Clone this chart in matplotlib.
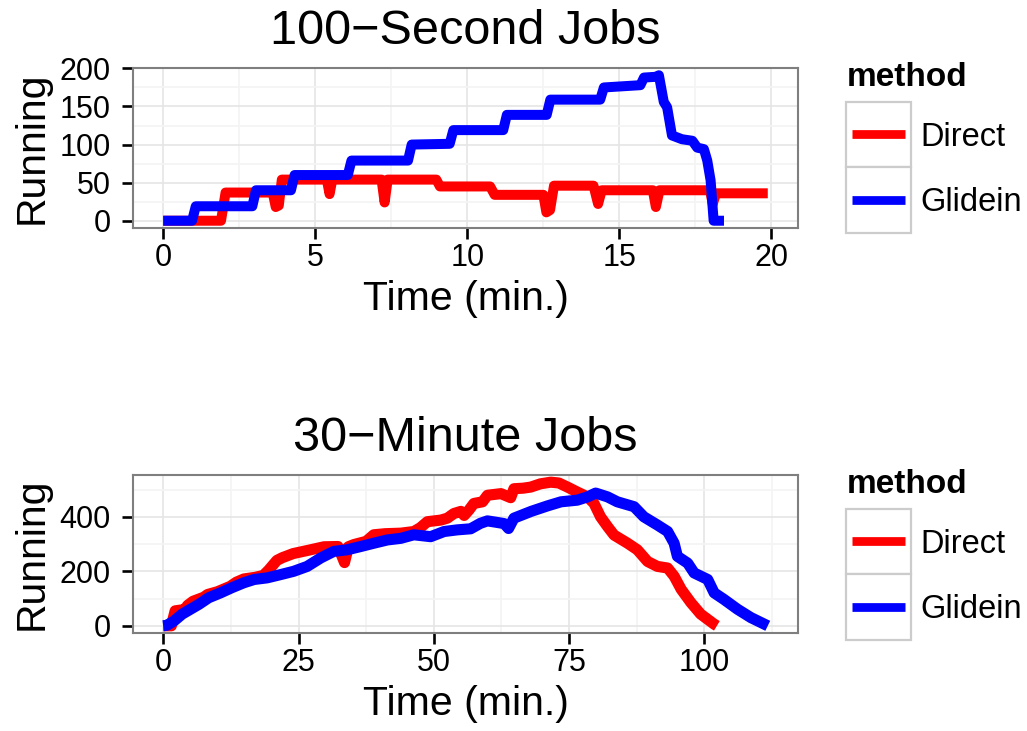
import numpy as np
import matplotlib.pyplot as plt
from matplotlib.patches import Rectangle
from matplotlib.lines import Line2D

plt.rcParams['font.family'] = ['Liberation Sans', 'DejaVu Sans']

# ---- data: 100-second jobs (time in minutes, running jobs) ----
short_direct_t = [0, 1.9, 2.05, 3.6, 3.7, 3.8, 3.9, 5.38, 5.47, 5.56, 7.18, 7.28, 7.38,
                  8.98, 9.1, 10.75, 10.9, 12.5, 12.6, 12.72, 12.85, 14.15, 14.3, 14.42,
                  16.1, 16.2, 16.32, 17.98, 18.07, 18.18, 19.88]
short_direct_v = [0, 0, 37, 37, 18, 20, 54, 54, 35, 54, 54, 24, 54,
                  54, 45, 45, 34, 34, 11, 14, 46, 46, 22, 40,
                  40, 18, 40, 40, 22, 36, 36]
short_glidein_t = [0, 0.95, 1.07, 2.93, 3.05, 4.2, 4.32, 6.07, 6.19, 8.05, 8.17, 9.42,
                   9.54, 11.18, 11.3, 12.61, 12.73, 14.37, 14.49, 15.69, 15.81, 16.2,
                   16.3, 16.46, 16.57, 16.73, 17.06, 17.4, 17.56, 17.78, 17.89, 18.0,
                   18.1, 18.44]
short_glidein_v = [0, 0, 19, 19, 40, 40, 60, 60, 79, 79, 100, 101,
                   119, 119, 139, 139, 159, 159, 175, 178, 188, 189,
                   191, 156, 149, 112, 107, 105, 96, 94, 79, 53,
                   0, 0]

# ---- data: 30-minute jobs ----
long_direct_t = [0, 1.5, 2.2, 4.0, 4.5, 5.5, 7.5, 8.2, 10, 12.4, 13.5, 14.9, 17, 18.5,
                 19.5, 21, 22, 24, 27, 29.7, 32.3, 33.5, 34.2, 35.2, 37.5, 38.9, 41,
                 43.9, 46.3, 47.5, 48.8, 51.3, 52.5, 53.7, 55.0, 55.6, 56.5, 57.4, 59.0,
                 59.9, 62.4, 64.2, 64.8, 66.5, 67.9, 69.7, 71.6, 73.1, 74.7, 76.5, 78.4,
                 79.6, 80.8, 82.1, 83.3, 85.8, 87.6, 89.5, 91.3, 93.2, 94.4, 95.7, 97.5,
                 99.3, 101.8, 102.3]
long_direct_v = [0, 0, 55, 60, 75, 90, 105, 115, 125, 145, 160, 172, 178, 185,
                 205, 240, 250, 265, 278, 290, 291, 232, 290, 298, 310, 334, 338,
                 340, 346, 360, 382, 388, 395, 412, 420, 405, 425, 449, 455,
                 479, 485, 470, 503, 505, 509, 521, 527, 524, 509, 491, 473,
                 449, 400, 364, 333, 303, 279, 236, 218, 212, 182, 134, 85,
                 43, 6, 0]
long_glidein_t = [0, 0.7, 2.0, 3.5, 5.05, 6.6, 8.4, 10.6, 12.7, 14.9, 16.8, 19.2, 21.7,
                  24.1, 26.6, 29.1, 31.5, 34, 36.5, 38.9, 41.4, 43.9, 46.3, 49.4, 51.9,
                  54.3, 56.8, 58.6, 59.9, 61.5, 63.0, 63.8, 64.8, 68.0, 71.0, 73.5, 76.5,
                  78.4, 79.9, 82.1, 83.9, 87, 88.8, 91.3, 93.2, 94.4, 95.0, 96.9, 98.1,
                  100.6, 101.8, 103.6, 106.1, 108.6, 111.7]
long_glidein_v = [0, 2, 18, 43, 61, 79, 103, 121, 140, 158, 170, 176, 188,
                  200, 218, 249, 273, 279, 291, 303, 315, 321, 334, 327, 346,
                  352, 356, 376, 385, 380, 375, 357, 395, 420, 440, 455, 461,
                  473, 487, 473, 455, 437, 400, 370, 346, 303, 255, 230, 194,
                  170, 121, 97, 61, 30, 0]

methods = ['Direct', 'Glidein']
colors = ['#ff0000', '#0000ff']

W, H = 1027, 731
fig = plt.figure(figsize=(W / 100, H / 100), dpi=100)


def px(x, y):
    return x / W, 1 - y / H


def expand(vals):
    lo, hi = min(vals), max(vals)
    r = hi - lo
    return lo - 0.05 * r, hi + 0.05 * r


def make_panel(top, bottom, title, series, xmajor, xminor, ymajor, yminor, lw):
    l, b = px(133, bottom)
    ax = fig.add_axes([l, b, (798 - 133) / W, (bottom - top) / H])
    for (t, v), c in zip(series, colors):
        ax.plot(t, v, color=c, lw=lw, solid_joinstyle='round',
                solid_capstyle='butt', zorder=3)
    ax.set_xlim(*expand([x for t, v in series for x in t]))
    ax.set_ylim(*expand([y for t, v in series for y in v]))
    ax.set_xticks(xmajor)
    ax.set_yticks(ymajor)
    ax.set_xticks(xminor, minor=True)
    ax.set_yticks(yminor, minor=True)
    ax.grid(True, which='major', color='#e5e5e5', lw=1.2, zorder=0)
    ax.grid(True, which='minor', color='#f4f4f4', lw=1.2, zorder=0)
    ax.tick_params(which='minor', length=0)
    ax.tick_params(which='major', length=8, width=1.9, color='black',
                   labelsize=22)
    ax.tick_params(axis='x', pad=3)
    ax.tick_params(axis='y', pad=8)
    for s in ax.spines.values():
        s.set_color('#7f7f7f')
        s.set_linewidth(1.5)

    # titles and axis labels
    fig.text(*px(465.5, top - 24), title, fontsize=35, ha='center', va='baseline')
    fig.text(*px(465.5, bottom + 82), 'Time (min.)', fontsize=29.5,
             ha='center', va='baseline')
    fig.text(*px(31.5, (top + bottom) / 2), 'Running', fontsize=29.5,
             rotation=90, ha='center', va='center')

    # legend
    fig.text(*px(847, top + 18), 'method', fontsize=24, fontweight='bold',
             ha='left', va='baseline')
    for i, (name, c) in enumerate(zip(methods, colors)):
        ktop = top + 33.7 + i * 65.5
        kx, ky = px(846, ktop + 65.5)
        fig.add_artist(Rectangle((kx, ky), 65 / W, 65.5 / H, transform=fig.transFigure,
                                 facecolor='white', edgecolor='#cccccc', lw=1.6))
        x0, yc = px(852, ktop + 32.7)
        x1, _ = px(905, 0)
        fig.add_artist(Line2D([x0, x1], [yc, yc], transform=fig.transFigure,
                              color=c, lw=6.3, solid_capstyle='butt'))
        fig.text(*px(920, ktop + 32.7 + 11.5), name, fontsize=23.5,
                 ha='left', va='baseline')
    return ax


make_panel(68, 228, '100\u2212Second Jobs',
           [(short_direct_t, short_direct_v), (short_glidein_t, short_glidein_v)],
           [0, 5, 10, 15, 20], [2.5, 7.5, 12.5, 17.5],
           [0, 50, 100, 150, 200], [25, 75, 125, 175], 7.2)
make_panel(475, 633, '30\u2212Minute Jobs',
           [(long_direct_t, long_direct_v), (long_glidein_t, long_glidein_v)],
           [0, 25, 50, 75, 100], [12.5, 37.5, 62.5, 87.5, 112.5],
           [0, 200, 400], [100, 300, 500], 8.0)

fig.savefig('out.png', dpi=100)
